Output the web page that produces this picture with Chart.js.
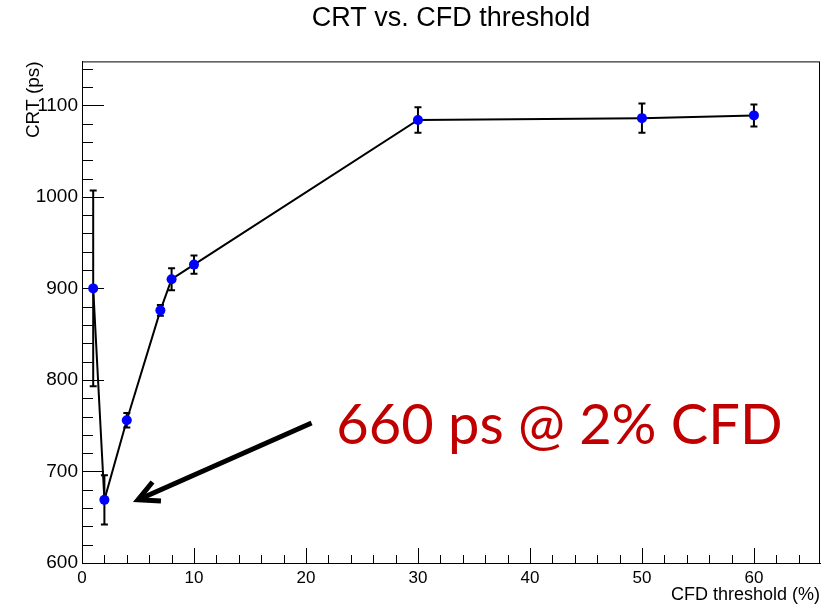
<!DOCTYPE html>
<html>
<head>
<meta charset="utf-8">
<title>CRT vs. CFD threshold</title>
<script src="https://cdn.jsdelivr.net/npm/chart.js@4.4.1/dist/chart.umd.min.js"></script>
<style>
    html, body { margin: 0; padding: 0; background: #fff; }
</style>
</head>
<body>
<canvas id="crtChart" width="833" height="609"></canvas>
<script>
// Data
var cfdThreshold = [1, 2, 4, 7, 8, 10, 30, 50, 60];
var crtValues = [900, 669, 756, 876, 910, 926, 1084, 1086, 1089];
var crtErrors = [107, 27, 8, 6, 12, 10, 14, 16, 12];

// Axis ranges (ROOT style)
var xRange = [0, 65.9];
var yRange = [600, 1148];

// Annotation, in data units
var noteText = '660 ps @ 2% CFD';
var notePos = [22.7, 730];
var arrowFrom = [20.5, 753];
var arrowTo = [5.0, 669];

/**
 * Frame, inner ticks, error bars and the annotation arrow
 */
var rootStyle = {
    id: 'rootStyle',
    beforeDatasetsDraw: function(chart) {
        var ctx = chart.ctx;
        var xs = chart.scales.x, ys = chart.scales.y;
        var area = chart.chartArea;

        ctx.save();
        ctx.strokeStyle = '#000';
        ctx.lineWidth = 1;
        ctx.strokeRect(area.left + 0.5, area.top + 0.5, area.right - area.left - 1, area.bottom - area.top);

        // y ticks, pointing into the frame
        ctx.beginPath();
        for (var v = yRange[0]; v <= yRange[1]; v += 20) {
            var py = Math.round(ys.getPixelForValue(v)) + 0.5;
            var len = (v % 100 === 0) ? 22 : 11;
            ctx.moveTo(area.left, py);
            ctx.lineTo(area.left + len, py);
        }
        // x ticks
        for (var u = xRange[0]; u <= xRange[1]; u += 2) {
            var px = Math.round(xs.getPixelForValue(u)) + 0.5;
            var l = (u % 10 === 0) ? 15 : 8;
            ctx.moveTo(px, area.bottom);
            ctx.lineTo(px, area.bottom - l);
        }
        ctx.stroke();

        // error bars
        ctx.lineWidth = 2;
        ctx.beginPath();
        for (var i = 0; i < cfdThreshold.length; i++) {
            var x = xs.getPixelForValue(cfdThreshold[i]);
            var top = ys.getPixelForValue(crtValues[i] + crtErrors[i]);
            var bot = ys.getPixelForValue(crtValues[i] - crtErrors[i]);
            ctx.moveTo(x, top);
            ctx.lineTo(x, bot);
            ctx.moveTo(x - 3.5, top);
            ctx.lineTo(x + 3.5, top);
            ctx.moveTo(x - 3.5, bot);
            ctx.lineTo(x + 3.5, bot);
        }
        ctx.stroke();
        ctx.restore();
    },
    afterDraw: function(chart) {
        var ctx = chart.ctx;
        var xs = chart.scales.x, ys = chart.scales.y;

        ctx.save();
        // arrow
        var x0 = xs.getPixelForValue(arrowFrom[0]), y0 = ys.getPixelForValue(arrowFrom[1]);
        var x1 = xs.getPixelForValue(arrowTo[0]), y1 = ys.getPixelForValue(arrowTo[1]);
        var ang = Math.atan2(y0 - y1, x0 - x1);
        var head = 23, spread = 27 * Math.PI / 180;
        ctx.strokeStyle = '#000';
        ctx.lineWidth = 5;
        ctx.lineJoin = 'miter';
        ctx.beginPath();
        ctx.moveTo(x0, y0);
        ctx.lineTo(x1 + 2 * Math.cos(ang), y1 + 2 * Math.sin(ang));
        ctx.stroke();
        ctx.beginPath();
        ctx.moveTo(x1 + head * Math.cos(ang - spread), y1 + head * Math.sin(ang - spread));
        ctx.lineTo(x1, y1);
        ctx.lineTo(x1 + head * Math.cos(ang + spread), y1 + head * Math.sin(ang + spread));
        ctx.stroke();

        // note
        ctx.fillStyle = '#C00000';
        ctx.font = '56px Lato';
        ctx.textAlign = 'left';
        ctx.textBaseline = 'alphabetic';
        ctx.fillText(noteText, xs.getPixelForValue(notePos[0]), ys.getPixelForValue(notePos[1]));
        ctx.restore();
    }
};

function initCrtChart() {
    var ctx = document.getElementById('crtChart').getContext('2d');
    var points = cfdThreshold.map(function(x, i) { return { x: x, y: crtValues[i] }; });

    return new Chart(ctx, {
        type: 'line',
        data: {
            datasets: [{
                label: 'CRT',
                data: points,
                borderColor: '#000',
                borderWidth: 2,
                tension: 0,
                pointRadius: 5,
                pointHoverRadius: 5,
                pointBackgroundColor: '#0000ff',
                pointBorderColor: '#0000ff',
                pointBorderWidth: 0
            }]
        },
        options: {
            responsive: false,
            animation: false,
            layout: { padding: { left: 0, right: 13, top: 0, bottom: 0 } },
            plugins: {
                legend: { display: false },
                tooltip: { enabled: false },
                title: {
                    display: true,
                    fullSize: false,
                    text: 'CRT vs. CFD threshold',
                    color: '#000',
                    font: { family: 'Liberation Sans', size: 27, weight: 'normal', lineHeight: 1.2 },
                    padding: { top: 2, bottom: 27 }
                }
            },
            scales: {
                x: {
                    type: 'linear',
                    min: xRange[0],
                    max: xRange[1],
                    grid: { display: false, drawTicks: false },
                    border: { display: true, color: '#000', width: 1 },
                    ticks: {
                        stepSize: 10,
                        includeBounds: false,
                        padding: 5,
                        color: '#000',
                        font: { family: 'Liberation Sans', size: 17 },
                        callback: function(v) { return String(v); }
                    },
                    title: {
                        display: true,
                        text: 'CFD threshold (%)',
                        align: 'end',
                        color: '#000',
                        font: { family: 'Liberation Sans', size: 18 },
                        padding: { top: 0, bottom: 3 }
                    },
                    afterFit: function(scale) { scale.height = 46; }
                },
                y: {
                    type: 'linear',
                    min: yRange[0],
                    max: yRange[1],
                    grid: { display: false, drawTicks: false },
                    border: { display: true, color: '#000', width: 1 },
                    ticks: {
                        stepSize: 100,
                        includeBounds: false,
                        padding: 4,
                        color: '#000',
                        font: { family: 'Liberation Sans', size: 19 },
                        callback: function(v) { return String(v); }
                    },
                    title: {
                        display: true,
                        text: 'CRT (ps)',
                        align: 'end',
                        color: '#000',
                        font: { family: 'Liberation Sans', size: 19 },
                        padding: { top: 22, bottom: 0 }
                    },
                    afterFit: function(scale) { scale.width = 82; }
                }
            }
        },
        plugins: [rootStyle]
    });
}

initCrtChart();
</script>
</body>
</html>
